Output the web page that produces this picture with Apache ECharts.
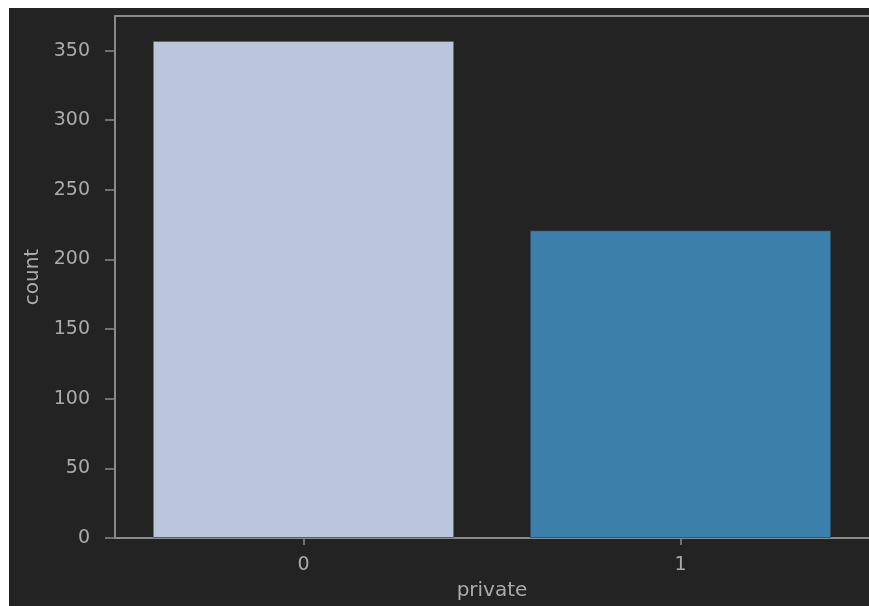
<!DOCTYPE html>
<html>
<head>
<meta charset="utf-8">
<script src="https://cdn.jsdelivr.net/npm/echarts@6/dist/echarts.min.js"></script>
<style>
html,body{margin:0;padding:0;background:#ffffff;width:869px;height:606px;overflow:hidden;}
#chart{position:absolute;left:9px;top:8px;width:860px;height:598px;background:#232323;}
</style>
</head>
<body>
<div id="chart"></div>
<script>
const categories = ['0', '1'];
const counts = [357, 221];
const barColors = ['#b9c6db', '#3a80aa'];
const yTicks = [0, 50, 100, 150, 200, 250, 300, 350];
const yMax = 374.85;

const chart = echarts.init(document.getElementById('chart'), null, {renderer: 'canvas'});
const txt = '#ababab';
const line = '#8a8a8a';
const font = 'DejaVu Sans';
chart.setOption({
  backgroundColor: '#232323',
  animation: false,
  grid: {left: 106, top: 8, right: -2, bottom: 65, containLabel: false, show: false},
  xAxis: [{
    type: 'category',
    data: categories,
    name: 'private',
    nameLocation: 'middle',
    nameGap: 43,
    nameTextStyle: {color: txt, fontFamily: font, fontSize: 20},
    axisLine: {show: true, lineStyle: {color: line, width: 2}},
    axisTick: {show: true, alignWithLabel: true, length: 7, lineStyle: {color: line, width: 1.5}},
    axisLabel: {color: txt, fontFamily: font, fontSize: 19, margin: 18},
    splitLine: {show: false}
  }, {
    type: 'category',
    data: categories,
    position: 'top',
    axisLine: {show: true, lineStyle: {color: line, width: 2}},
    axisTick: {show: false},
    axisLabel: {show: false},
    splitLine: {show: false}
  }],
  yAxis: {
    type: 'value',
    min: 0,
    max: yMax,
    name: 'count',
    nameLocation: 'middle',
    nameGap: 68,
    nameTextStyle: {color: txt, fontFamily: font, fontSize: 20},
    axisLine: {show: true, lineStyle: {color: line, width: 2}},
    axisTick: {show: true, length: 10, customValues: yTicks, lineStyle: {color: line, width: 1.5}},
    axisLabel: {color: txt, fontFamily: font, fontSize: 19, margin: 25, customValues: yTicks},
    splitLine: {show: false}
  },
  series: [{
    type: 'bar',
    xAxisIndex: 0,
    barCategoryGap: '20%',
    data: counts.map((v, i) => ({value: v, itemStyle: {color: barColors[i]}})),
    itemStyle: {borderColor: 'rgba(40,45,55,0.6)', borderWidth: 1}
  }]
});
</script>
</body>
</html>
